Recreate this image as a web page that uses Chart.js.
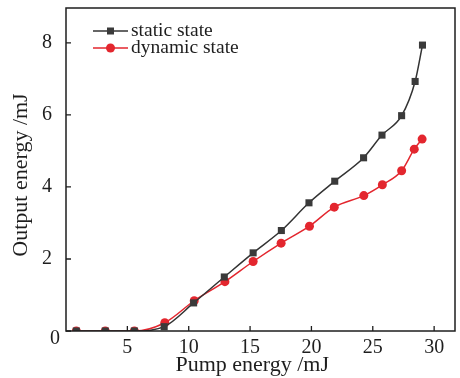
<!DOCTYPE html>
<html>
<head>
<meta charset="utf-8">
<script src="https://cdn.jsdelivr.net/npm/chart.js@4.4.1/dist/chart.umd.min.js"></script>
<style>
  html, body { margin: 0; padding: 0; background: #fff; }
  #wrap { width: 460px; height: 378px; position: relative; }
</style>
</head>
<body>
<div id="wrap"><canvas id="chart" width="460" height="378"></canvas></div>
<script>
// pump energy (mJ) and output energy (mJ)
const staticPump = [0.84, 3.2, 5.57, 8.0, 10.4, 12.9, 15.25, 17.55, 19.8, 21.9, 24.25, 25.75, 27.35, 28.45, 29.05];
const staticOut = [0, 0, 0, 0.12, 0.78, 1.5, 2.17, 2.79, 3.56, 4.16, 4.81, 5.44, 5.98, 6.93, 7.94];
const dynamicPump = [0.84, 3.2, 5.57, 8.05, 10.45, 12.95, 15.25, 17.53, 19.84, 21.86, 24.27, 25.78, 27.35, 28.38, 29.02];
const dynamicOut = [0, 0, 0, 0.23, 0.84, 1.37, 1.93, 2.44, 2.91, 3.44, 3.76, 4.06, 4.45, 5.05, 5.33];
const xTicks = [5, 10, 15, 20, 25, 30];
const yTicks = [0, 2, 4, 6, 8];

const serif = '"Liberation Serif", "DejaVu Serif", serif';
const ink = '#1e1e1e';

function toPoints(xs, ys) {
  return xs.map((x, i) => ({ x, y: ys[i] }));
}

// frame + inward tick marks + legend with line and marker
const framePlugin = {
  id: 'frame',
  afterDraw(chart) {
    const { ctx, chartArea: a, scales } = chart;
    ctx.save();
    ctx.strokeStyle = ink;
    ctx.lineWidth = 1.5;
    ctx.strokeRect(a.left, a.top, a.right - a.left, a.bottom - a.top);
    ctx.lineWidth = 1.3;
    ctx.beginPath();
    xTicks.forEach((v) => {
      const px = scales.x.getPixelForValue(v);
      ctx.moveTo(px, a.bottom);
      ctx.lineTo(px, a.bottom - 5);
    });
    yTicks.forEach((v) => {
      const py = scales.y.getPixelForValue(v);
      ctx.moveTo(a.left, py);
      ctx.lineTo(a.left + 5, py);
    });
    ctx.stroke();

    // origin label sits a bit below the axis in the original
    ctx.fillStyle = ink;
    ctx.font = '20px ' + serif;
    ctx.textAlign = 'right';
    ctx.textBaseline = 'middle';
    ctx.fillText('0', a.left - 6, a.bottom + 8);

    // legend
    chart.data.datasets.forEach((ds, i) => {
      const y = 31 + i * 17;
      ctx.strokeStyle = ds.borderColor;
      ctx.lineWidth = 1.5;
      ctx.beginPath();
      ctx.moveTo(93, y);
      ctx.lineTo(128, y);
      ctx.stroke();
      ctx.fillStyle = ds.pointBackgroundColor;
      if (ds.pointStyle === 'rect') {
        ctx.fillRect(107, y - 3.5, 7, 7);
      } else {
        ctx.beginPath();
        ctx.arc(110.5, y, 4.5, 0, Math.PI * 2);
        ctx.fill();
      }
      ctx.fillStyle = ink;
      ctx.font = '19.5px ' + serif;
      ctx.textAlign = 'left';
      ctx.textBaseline = 'middle';
      ctx.fillText(ds.label, 131, y);
    });
    ctx.restore();
  }
};

new Chart(document.getElementById('chart'), {
  type: 'line',
  data: {
    datasets: [
      {
        label: 'static state',
        data: toPoints(staticPump, staticOut),
        borderColor: '#333333',
        backgroundColor: '#3a3a3a',
        pointBackgroundColor: '#3a3a3a',
        pointBorderWidth: 0,
        pointStyle: 'rect',
        pointRadius: 5,
        borderWidth: 1.5,
        cubicInterpolationMode: 'monotone'
      },
      {
        label: 'dynamic state',
        data: toPoints(dynamicPump, dynamicOut),
        borderColor: '#e3262e',
        backgroundColor: '#e3262e',
        pointBackgroundColor: '#e3262e',
        pointBorderWidth: 0,
        pointStyle: 'circle',
        pointRadius: 4.5,
        borderWidth: 1.5,
        cubicInterpolationMode: 'monotone'
      }
    ]
  },
  options: {
    responsive: false,
    animation: false,
    layout: { padding: { left: 0, top: 8, right: 3, bottom: 0 } },
    plugins: {
      legend: { display: false },
      tooltip: { enabled: false }
    },
    scales: {
      x: {
        type: 'linear',
        min: 0,
        max: 31.7,
        afterBuildTicks: (scale) => { scale.ticks = xTicks.map((value) => ({ value })); },
        afterFit: (scale) => {
          scale.height = 47;
          scale.paddingLeft = 0;
          scale.paddingRight = 0;
        },
        grid: { display: false },
        border: { display: false },
        ticks: { color: ink, font: { family: serif, size: 20 }, padding: -3, maxRotation: 0 },
        title: {
          display: true,
          text: 'Pump energy /mJ   ',
          color: ink,
          font: { family: serif, size: 22 },
          padding: { top: -6, bottom: 0 }
        }
      },
      y: {
        min: 0,
        max: 8.97,
        afterBuildTicks: (scale) => { scale.ticks = yTicks.map((value) => ({ value })); },
        afterFit: (scale) => {
          scale.width = 66;
          scale.paddingTop = 0;
          scale.paddingBottom = 0;
        },
        grid: { display: false },
        border: { display: false },
        ticks: {
          color: ink,
          font: { family: serif, size: 20 },
          padding: 6,
          callback: (v) => (v === 0 ? '' : v)
        },
        title: {
          display: true,
          text: 'Output energy /mJ  ',
          color: ink,
          font: { family: serif, size: 22 },
          padding: { top: 8, bottom: 2 }
        }
      }
    }
  },
  plugins: [framePlugin]
});
</script>
</body>
</html>
